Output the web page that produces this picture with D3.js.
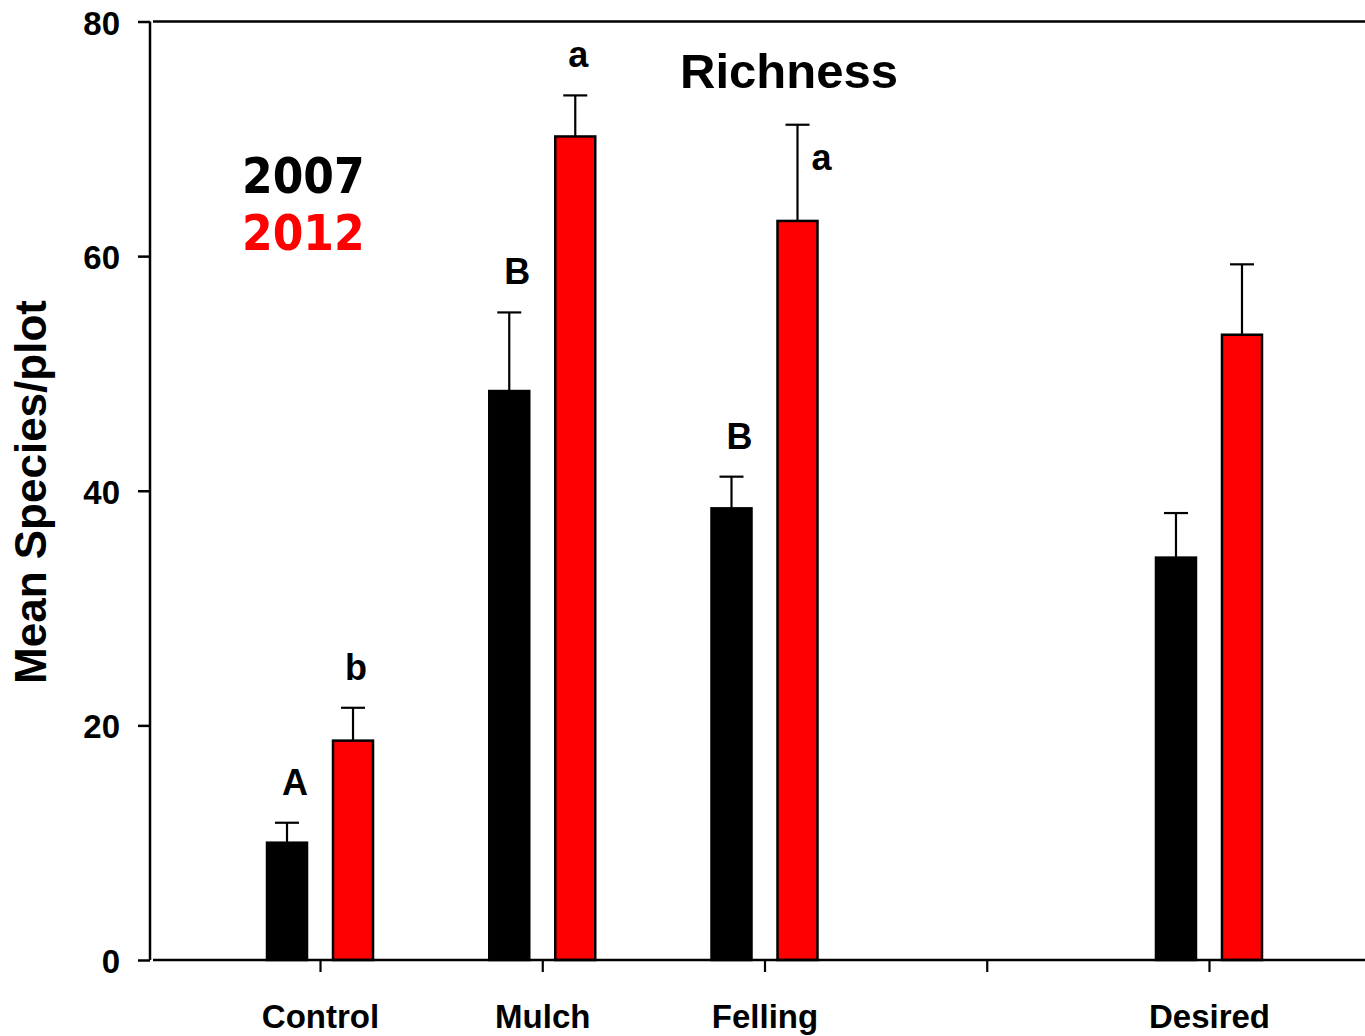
<!DOCTYPE html>
<html>
<head>
<meta charset="utf-8">
<script src="https://cdn.jsdelivr.net/npm/d3@7"></script>
<style>
  html, body { margin: 0; padding: 0; background: #fff; }
  svg { display: block; }
  text { font-family: "Liberation Sans", Arial, sans-serif; font-weight: bold; fill: #000; }
  .legend text { font-family: "DejaVu Sans", Verdana, sans-serif; font-stretch: condensed; font-weight: bold; }
</style>
</head>
<body>
<svg id="chart" width="1365" height="1036"></svg>
<script>
// Treatment positions along the x axis (one slot left empty before "Desired")
const categories = ["Control", "Mulch", "Felling", "", "Desired"];
const years = ["2007", "2012"];
const yearColors = ["#000000", "#ff0000"];

// Mean species per plot and standard error, per year
const mean2007 = [10.0, 48.5, 38.5, null, 34.3];
const se2007   = [1.7, 6.7, 2.7, null, 3.8];
const mean2012 = [18.7, 70.2, 63.0, null, 53.3];
const se2012   = [2.8, 3.5, 8.2, null, 6.0];

// Significance letters
const letters2007 = ["A", "B", "B", null, null];
const letters2012 = ["b", "a", "a", null, null];

const yTicks = [0, 20, 40, 60, 80];

const svg = d3.select("#chart");
const plotLeft = 150, plotRight = 1365, plotTop = 21.5, plotBottom = 960;

const y = d3.scaleLinear().domain([0, 80]).range([plotBottom, plotTop]);
const x = d3.scaleLinear().domain([-0.765, 4.702]).range([plotLeft, plotRight]);
const offset = d3.scaleOrdinal().domain(years).range([-33, 33]);
const letterNudge = d3.scaleOrdinal().domain(years).range([8, 3]);
const barW = 40;

const series = years.map((yr, k) => ({
  year: yr,
  color: yearColors[k],
  mean: k === 0 ? mean2007 : mean2012,
  se: k === 0 ? se2007 : se2012,
  letters: k === 0 ? letters2007 : letters2012
}));

const rows = [];
series.forEach(s => {
  categories.forEach((c, i) => {
    if (s.mean[i] == null) return;
    rows.push({ i, cat: c, year: s.year, color: s.color, mean: s.mean[i], se: s.se[i], letter: s.letters[i] });
  });
});

// Top frame line
svg.append("line")
  .attr("x1", plotLeft + 3).attr("x2", plotRight)
  .attr("y1", plotTop).attr("y2", plotTop)
  .attr("stroke", "#000").attr("stroke-width", 2.5);

// Bars
svg.append("g").selectAll("rect").data(rows).join("rect")
  .attr("x", d => x(d.i) + offset(d.year) - barW / 2)
  .attr("width", barW)
  .attr("y", d => y(d.mean))
  .attr("height", d => y(0) - y(d.mean))
  .attr("fill", d => d.color)
  .attr("stroke", "#000")
  .attr("stroke-width", 2.5);

// Upper error bars with caps
const eb = svg.append("g").attr("stroke", "#000").attr("stroke-width", 2.2);
eb.selectAll(".stem").data(rows).join("line")
  .attr("class", "stem")
  .attr("x1", d => x(d.i) + offset(d.year)).attr("x2", d => x(d.i) + offset(d.year))
  .attr("y1", d => y(d.mean)).attr("y2", d => y(d.mean + d.se));
eb.selectAll(".cap").data(rows).join("line")
  .attr("class", "cap")
  .attr("x1", d => x(d.i) + offset(d.year) - 12).attr("x2", d => x(d.i) + offset(d.year) + 12)
  .attr("y1", d => y(d.mean + d.se)).attr("y2", d => y(d.mean + d.se));

// Significance letters above the error bars (Felling 2012 sits beside its bar)
svg.append("g").selectAll("text").data(rows.filter(d => d.letter)).join("text")
  .attr("text-anchor", "middle")
  .attr("font-size", 36)
  .attr("x", d => {
    const cx = x(d.i) + offset(d.year);
    return (d.cat === "Felling" && d.year === "2012") ? cx + 24 : cx + letterNudge(d.year);
  })
  .attr("y", d => {
    const ty = y(d.mean + d.se);
    return (d.cat === "Felling" && d.year === "2012") ? ty + 45 : ty - 28;
  })
  .text(d => d.letter);

// Y axis
const yAxis = svg.append("g")
  .attr("transform", `translate(${plotLeft},0)`)
  .call(d3.axisLeft(y).tickValues(yTicks).tickSize(12).tickPadding(18));
yAxis.select(".domain").attr("d", `M0,${plotTop}V${plotBottom}`).attr("stroke-width", 2.5);
yAxis.selectAll(".tick line").attr("stroke-width", 2.5);
yAxis.selectAll(".tick text")
  .attr("font-size", 33).attr("font-family", "'Liberation Sans', Arial, sans-serif")
  .attr("font-weight", "bold").attr("dy", "0.38em");

// X axis
const xAxis = svg.append("g")
  .attr("transform", `translate(0,${plotBottom})`)
  .call(d3.axisBottom(x).tickValues(d3.range(categories.length)).tickFormat(i => categories[i]).tickSize(12).tickPadding(33));
xAxis.select(".domain").attr("d", `M${plotLeft + 3},0H${plotRight}`).attr("stroke-width", 2.5);
xAxis.selectAll(".tick line").attr("stroke-width", 2.2);
xAxis.selectAll(".tick text")
  .attr("font-size", 33).attr("font-family", "'Liberation Sans', Arial, sans-serif")
  .attr("font-weight", "bold");

// Y axis title
svg.append("text")
  .attr("transform", "translate(46,492) rotate(-90)")
  .attr("text-anchor", "middle")
  .attr("font-size", 44)
  .text("Mean Species/plot");

// Chart title
svg.append("text")
  .attr("x", 789).attr("y", 88)
  .attr("text-anchor", "middle")
  .attr("font-size", 49)
  .text("Richness");

// Year legend
svg.append("g").attr("class", "legend").selectAll("text").data(series).join("text")
  .attr("x", 242)
  .attr("y", (d, k) => 193 + k * 57)
  .attr("font-size", 49)
  .style("fill", d => d.color)
  .text(d => d.year);
</script>
</body>
</html>
